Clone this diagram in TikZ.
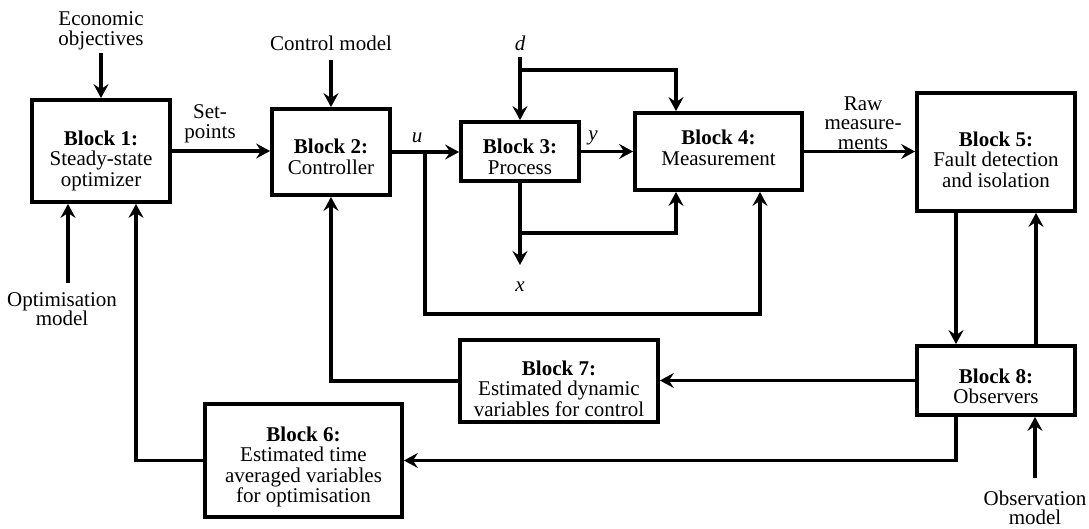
\documentclass[tikz,border=0pt]{standalone}
\usepackage{fontspec}
\setmainfont{Liberation Serif}
\usetikzlibrary{arrows.meta}
\begin{document}
\begin{tikzpicture}[x=1pt,y=-1pt,
  blk/.style 2 args={draw, line width=3.8pt, minimum width=#1, minimum height=#2, inner sep=0pt},
  txt/.style={font=\fontsize{21}{20.5}\selectfont, align=center, inner sep=0pt},
  lab/.style={font=\fontsize{21}{19.5}\selectfont, align=center, inner sep=0pt},
  var/.style={font=\fontsize{21}{21}\selectfont\itshape, inner sep=0pt},
  con/.style={line width=3.2pt},
  arr/.style={con, -{Stealth[length=14pt,width=15pt,inset=5pt]}}]
\useasboundingbox (0,0) rectangle (1089,528);

% blocks
\node[blk={138pt}{102pt}] (b1) at (101,151) {};
\node[blk={118pt}{86pt}]  (b2) at (331,152) {};
\node[blk={118pt}{59pt}]  (b3) at (520,151.5) {};
\node[blk={167pt}{77pt}]  (b4) at (718.5,151.5) {};
\node[blk={158pt}{118pt}] (b5) at (996,152) {};
\node[blk={197pt}{113pt}] (b6) at (303.5,460.5) {};
\node[blk={198pt}{82pt}]  (b7) at (559,381) {};
\node[blk={158pt}{69pt}]  (b8) at (996,380.5) {};

% block texts
\node[txt] (t1) at (101,160.8) {\textbf{Block 1:}\\Steady-state\\optimizer};
\node[txt] (t2) at (331,156.9) {\textbf{Block 2:}\\Controller};
\node[txt] (t3) at (520,156.9) {\textbf{Block 3:}\\Process};
\node[txt] (t4) at (718.5,147.9) {\textbf{Block 4:}\\Measurement};
\node[txt] (t5) at (996,159.4) {\textbf{Block 5:}\\Fault detection\\and isolation};
\node[txt] (t6) at (303.5,466.9) {\textbf{Block 6:}\\Estimated time\\averaged variables\\for optimisation};
\node[txt] (t7) at (559,388.7) {\textbf{Block 7:}\\Estimated dynamic\\variables for control};
\node[txt] (t8) at (996,386.5) {\textbf{Block 8:}\\Observers};

% labels
\node[lab] (econ) at (101,31) {Economic\\objectives};
\node[lab] (cm)   at (331,43) {Control model};
\node[lab] (sp)   at (210,124) {Set-\\points};
\node[lab] (raw)  at (863,123) {Raw\\measure-\\ments};
\node[lab] (opt)  at (62,309) {Optimisation\\model};
\node[lab] (obs)  at (1035,508) {Observation\\model};
\node[var] (u) at (417,138) {u};
\node[var] (d) at (520,43) {d};
\node[var] (y) at (593,138) {y};
\node[var] (x) at (520,287) {x};

% helper coordinates
\coordinate (econst) at (101,53);
\coordinate (cmst) at (331,60);
\coordinate (dst) at (520,57);
\coordinate (optst) at (68,283);
\coordinate (obsst) at (1035,478);
\coordinate (ub) at (425,152);
\coordinate (ucorner) at (760,314);
\coordinate (dbr) at (520,70);
\coordinate (c676) at (676,0);
\coordinate (xbr) at (520,233);
\coordinate (xend) at (520,265);
\coordinate (c956) at (956,0);
\coordinate (c1036) at (1036,0);
\coordinate (c136) at (136,0);

% connectors
\draw[arr] (econst) -- (b1.north);
\draw[arr] (b1.east) -- (b1.east -| b2.west);
\draw[arr] (cmst) -- (b2.north);
\draw[arr] (b2.east) -- (b2.east -| b3.west);
\draw[arr] (ub) |- (ucorner) -- (b4.south -| ucorner);
\draw[arr] (dst) -- (b3.north);
\draw[arr] (dbr) -| (b4.north -| c676);
\draw[arr] (b3.east) -- (b4.west);
\draw[arr] (b3.south) -- (xend);
\draw[arr] (xbr) -| (b4.south -| c676);
\draw[arr] (b4.east) -- (b4.east -| b5.west);
\draw[arr] (b5.south -| c956) -- (b8.north -| c956);
\draw[arr] (b8.north -| c1036) -- (b5.south -| c1036);
\draw[arr] (b8.west) -- (b8.west -| b7.east);
\draw[arr] (b7.west) -| (b2.south);
\draw[arr] (b8.south -| c956) |- (b6.east);
\draw[arr] (b6.west) -| (b1.south -| c136);
\draw[arr] (optst) -- (b1.south -| optst);
\draw[arr] (obsst) -- (b8.south -| obsst);
\end{tikzpicture}
\end{document}
